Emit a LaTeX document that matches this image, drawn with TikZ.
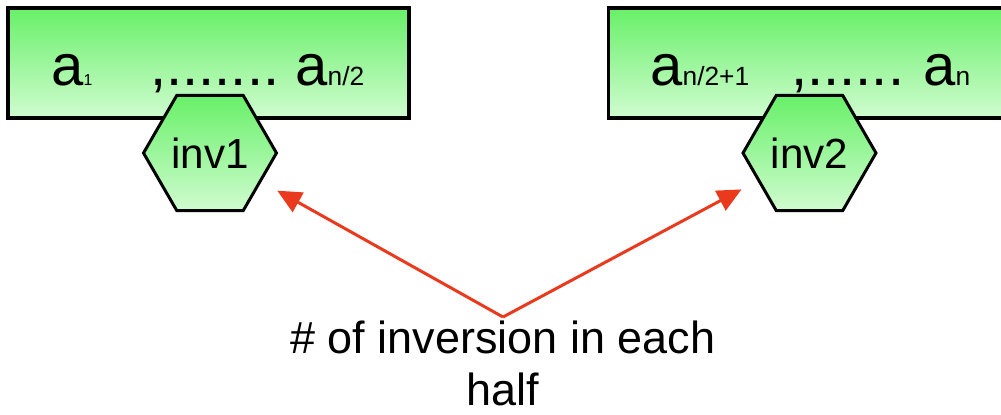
\documentclass[tikz,border=0pt]{standalone}
\usepackage{fontspec}
\setmainfont{Liberation Sans}
\usetikzlibrary{shapes.geometric,arrows.meta}
\definecolor{greentop}{RGB}{104,240,104}
\definecolor{greenbot}{RGB}{208,252,208}
\definecolor{pointred}{RGB}{234,58,30}
\newcommand{\idx}[1]{{\fontsize{15pt}{15pt}\selectfont #1}}

\begin{document}
\begin{tikzpicture}[
    x=0.02cm, y=-0.02cm,
    half/.style={draw=black, line width=2pt, top color=greentop, bottom color=greenbot, minimum height=2.2cm, inner sep=0pt},
    inv/.style={regular polygon, regular polygon sides=6, minimum size=2.66cm, draw=black, line width=1.7pt, top color=greentop, bottom color=greenbot, inner sep=0pt, font=\fontsize{24pt}{24pt}\selectfont},
    elem/.style={anchor=base west, inner sep=0pt, font=\fontsize{33pt}{33pt}\selectfont},
    pointer/.style={draw=pointred, line width=1.7pt, -{Triangle[length=0.48cm, width=0.44cm]}, shorten >=0.36cm},
]
\clip (0,0) rectangle (1001,414);
\useasboundingbox (0,0) rectangle (1001,414);
\node[half, minimum width=8.02cm] (lefthalf) at (208.5,63) {};
\node[half, minimum width=8.1cm] (righthalf) at (811,63) {};
\node[elem] (afirst) at (51,85) {a{\fontsize{9pt}{9pt}\selectfont 1}};
\node[elem] (ldots) at (150,85) {,.......};
\node[elem] (amid) at (295,85) {a\idx{n/2}};
\node[elem] (anext) at (650,85) {a\idx{n/2+1}};
\node[elem] (rdots) at (791,85) {,......};
\node[elem] (alast) at (923,85) {a\idx{n}};
\node[inv] (inv1) at (210,153) {inv1};
\node[inv] (inv2) at (809.5,153) {inv2};
\node[anchor=north, inner sep=0.08cm, align=center, font=\fontsize{25.6pt}{29.5pt}\selectfont] (note) at (503,317) {\# of inversion in each\\half};
\draw[pointer] (note.north) -- (inv1);
\draw[pointer] (note.north) -- (inv2);
\end{tikzpicture}
\end{document}
